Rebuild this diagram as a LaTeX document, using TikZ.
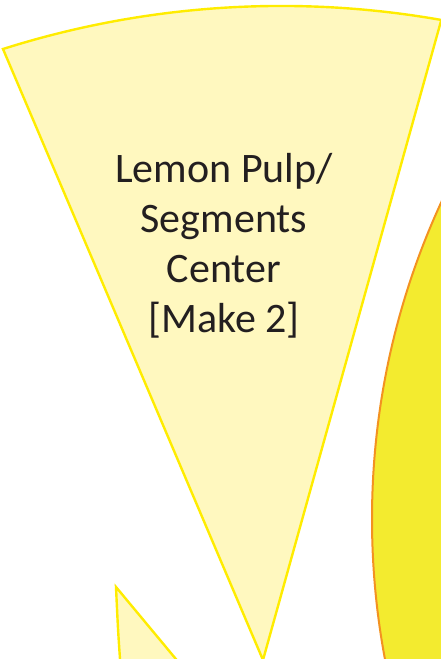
\documentclass[tikz,border=0pt]{standalone}
\usepackage{fontspec}
\setmainfont{Carlito}
\definecolor{wedgefill}{HTML}{FFF8BF}
\definecolor{wedgeline}{HTML}{FFEC00}
\definecolor{lemonfill}{HTML}{F3EB2F}
\definecolor{lemonline}{HTML}{F39221}
\definecolor{txt}{HTML}{231F20}
\tikzset{
  segment/.style={fill=wedgefill, draw=wedgeline, line width=2.4pt, line join=miter},
  lemon/.style={fill=lemonfill, draw=lemonline, line width=2pt},
  label/.style={align=center, text=txt, font=\fontsize{42}{50}\selectfont, inner sep=0pt}
}
\begin{document}
\begin{tikzpicture}[x=1pt,y=-1pt]
\useasboundingbox (0,0) rectangle (441,659);
\begin{scope}
\clip (0,0) rectangle (441,659);
% big lemon circle
\draw[lemon] (1129,519) circle (757);
% main segment
\draw[segment] (263,660) -- (3,49) arc[start angle=-107.59, end angle=-79.98, radius=920.5] -- cycle;
% lower-left segment
\draw[segment] (130,760) -- (120,659) .. controls (118,630) .. (116,587) -- (200,688) -- cycle;
\end{scope}
\node[label] (t) at (224,246) {Lemon Pulp/\\Segments\\Center\\{[Make 2]}};
\end{tikzpicture}
\end{document}
